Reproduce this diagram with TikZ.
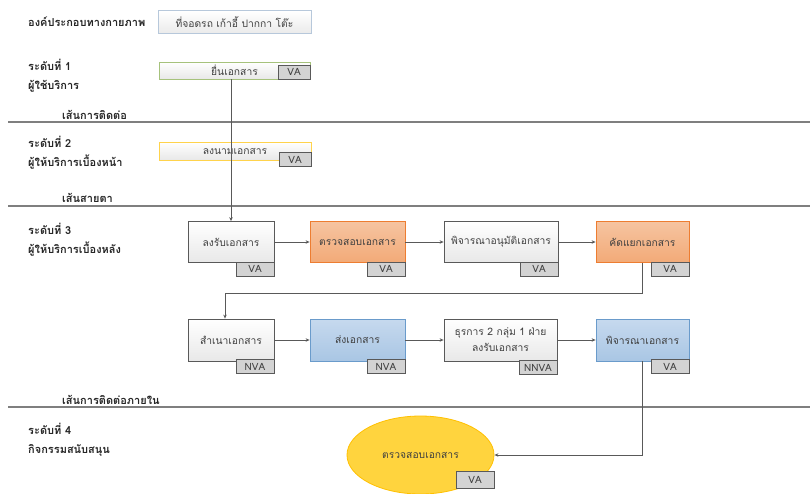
\documentclass[tikz,border=0pt]{standalone}
\usepackage{fontspec}
\setmainfont[Script=Thai]{Loma}
\usetikzlibrary{calc,arrows.meta,shapes.geometric}

\definecolor{lanegray}{HTML}{7F7F7F}
\definecolor{flowgray}{HTML}{595959}
\definecolor{textgray}{HTML}{404040}
\definecolor{orangetop}{HTML}{F6C4A0}
\definecolor{orangebot}{HTML}{F2AA78}
\definecolor{orangeedge}{HTML}{ED7D31}
\definecolor{bluetop}{HTML}{C6D9EE}
\definecolor{bluebot}{HTML}{A9C6E4}
\definecolor{blueedge}{HTML}{6A9BCB}
\definecolor{yellowfill}{HTML}{FFD43E}
\definecolor{yellowedge}{HTML}{FFC000}
\definecolor{greenedge}{HTML}{A6C27C}
\definecolor{physedge}{HTML}{B7C8DB}
\definecolor{tagfill}{HTML}{D3D3D3}

\tikzset{
	level/.style={anchor=west, align=left, inner sep=0pt, text=black!85,
		font=\bfseries\fontsize{11}{19}\selectfont},
	lane/.style={draw=lanegray, line width=1.2pt},
	task/.style={draw=flowgray, line width=0.8pt, top color=white, bottom color=black!9,
		minimum height=41pt, inner sep=1pt, align=center, text=textgray,
		font=\fontsize{10.3}{16}\selectfont},
	orangetask/.style={task, draw=orangeedge, top color=orangetop, bottom color=orangebot},
	bluetask/.style={task, draw=blueedge, top color=bluetop, bottom color=bluebot},
	tag/.style={draw=flowgray, line width=0.8pt, fill=tagfill, anchor=north east,
		minimum width=38pt, minimum height=14pt, inner sep=0pt, text=textgray,
		font=\fontsize{10}{10}\selectfont},
	flow/.style={draw=flowgray, line width=0.7pt, -{Stealth[length=4pt,width=3.5pt]}}
}

\begin{document}
\begin{tikzpicture}[x=1pt, y=-1pt]
		%%%%% START %%%%%
		\useasboundingbox (0,0) rectangle (810,493);
		
		% physical evidence
		\node[level] (physlbl) at (28,22) {องค์ประกอบทางกายภาพ};
		\node[draw=physedge, line width=0.8pt, top color=white, bottom color=black!8,
			minimum width=153pt, minimum height=23pt, text=textgray,
			font=\fontsize{10.3}{10}\selectfont] (phys) at (234.5,22) {ที่จอดรถ เก้าอี้ ปากกา โต๊ะ};
		
		% lanes
		\node[level] (lvlone) at (28,75.5) {ระดับที่ 1\\ผู้ใช้บริการ};
		\node[level] (lnone) at (62,115) {เส้นการติดต่อ};
		\draw[lane] (8,122) -- (810,122);
		
		\node[level] (lvltwo) at (28,152.5) {ระดับที่ 2\\ผู้ให้บริการเบื้องหน้า};
		\node[level] (lntwo) at (62,198) {เส้นสายตา};
		\draw[lane] (8,206) -- (810,206);
		
		\node[level] (lvlthree) at (28,239.5) {ระดับที่ 3\\ผู้ให้บริการเบื้องหลัง};
		\node[level] (lnthree) at (62,400) {เส้นการติดต่อภายใน};
		\draw[lane] (8,407) -- (810,407);
		
		\node[level] (lvlfour) at (28,439.5) {ระดับที่ 4\\กิจกรรมสนับสนุน};
		
		% customer + onstage
		\node[task, draw=greenedge, minimum width=151pt, minimum height=17pt] (submit) at (234.5,70.5) {ยื่นเอกสาร};
		\node[tag, anchor=south east, minimum width=32pt] (submittag) at (submit.south east) {VA};
		
		\node[task, draw=yellowedge!70, minimum width=152pt, minimum height=18pt] (sign) at (235,151) {ลงนามเอกสาร};
		\node[tag, minimum width=32pt] (signtag) at ([yshift=8pt]sign.south east) {VA};
		
		% backstage, first row
		\node[task, minimum width=86pt] (recv) at (231,242) {ลงรับเอกสาร};
		\node[orangetask, minimum width=95pt] (check) at (357.5,242) {ตรวจสอบเอกสาร};
		\node[task, minimum width=114pt] (approve) at (501,242) {พิจารณาอนุมัติเอกสาร};
		\node[orangetask, minimum width=93pt] (sort) at (642.5,242) {คัดแยกเอกสาร};
		
		\node[tag] (recvtag) at ([yshift=1pt]recv.south east) {VA};
		\node[tag] (checktag) at ([yshift=1pt]check.south east) {VA};
		\node[tag] (approvetag) at ([yshift=1pt]approve.south east) {VA};
		\node[tag] (sorttag) at ([yshift=1pt]sort.south east) {VA};
		
		% backstage, second row
		\node[task, minimum width=86pt, minimum height=42pt] (copy) at (231,340) {สำเนาเอกสาร};
		\node[bluetask, minimum width=95pt, minimum height=42pt] (send) at (357.5,340) {ส่งเอกสาร};
		\node[task, minimum width=113pt, minimum height=42pt] (clerk) at (500.5,340) {ธุรการ 2 กลุ่ม 1 ฝ่าย\\ลงรับเอกสาร};
		\node[bluetask, minimum width=93pt, minimum height=42pt] (consider) at (642.5,340) {พิจารณาเอกสาร};
		
		\node[tag] (copytag) at ([yshift=2pt]copy.south east) {NVA};
		\node[tag] (sendtag) at ([yshift=2pt]send.south east) {NVA};
		\node[tag] (clerktag) at ([yshift=1pt]clerk.south east) {NNVA};
		\node[tag] (considertag) at ([yshift=2pt]consider.south east) {VA};
		
		% support
		\node[ellipse, draw=yellowedge, line width=0.8pt, fill=yellowfill, inner sep=0pt,
			minimum width=147pt, minimum height=78pt, text=textgray,
			font=\fontsize{10.3}{10}\selectfont] (recheck) at (420.5,455) {ตรวจสอบเอกสาร};
		\node[tag, minimum height=17pt] (rechecktag) at ([yshift=-16pt]recheck.east) {VA};
		
		% flows
		\draw[flow] (submit.south -| recv.north) -- (recv.north);
		\draw[flow] (recv) -- (check);
		\draw[flow] (check) -- (approve);
		\draw[flow] (approve) -- (sort);
		\draw[flow] (sort.south) -- ++(0,30) -| ([xshift=-6pt]copy.north);
		\draw[flow] (copy) -- (send);
		\draw[flow] (send) -- (clerk);
		\draw[flow] (clerk) -- (consider);
		\draw[flow] (consider.south) |- (recheck.east);
		
		%%%%% END %%%%%
\end{tikzpicture}
\end{document}
